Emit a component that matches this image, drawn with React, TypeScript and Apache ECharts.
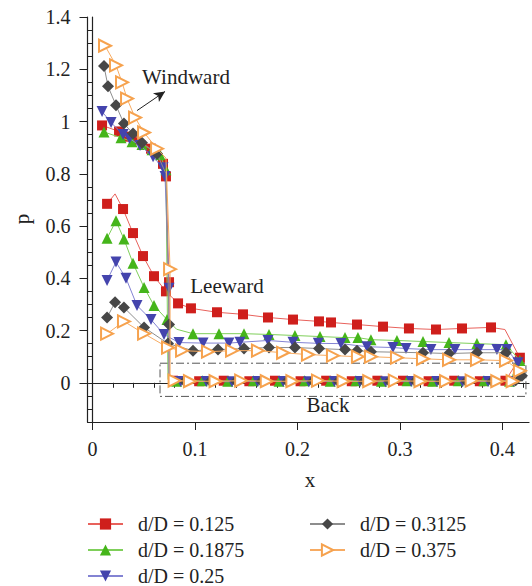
import React, { useEffect, useRef } from "react";
import * as echarts from "echarts";

// ---------- data ----------
const seriesNames = ["d/D = 0.125", "d/D = 0.1875", "d/D = 0.25", "d/D = 0.3125", "d/D = 0.375"];

const xMajor = [0, 0.1, 0.2, 0.3, 0.4];
const xMinor = [0.02, 0.04, 0.06, 0.08, 0.12, 0.14, 0.16, 0.18, 0.22, 0.24, 0.26, 0.28, 0.32, 0.34, 0.36, 0.38, 0.42];
const yMajor = [0, 0.2, 0.4, 0.6, 0.8, 1, 1.2, 1.4];
const yMinor = [-0.1, -0.05, 0.05, 0.1, 0.15, 0.25, 0.3, 0.35, 0.45, 0.5, 0.55, 0.65, 0.7, 0.75, 0.85, 0.9, 0.95, 1.05, 1.1, 1.15, 1.25, 1.3, 1.35];

// d/D = 0.125
const redWindward = [[0.0092, 0.985], [0.0258, 0.962], [0.0346, 0.942], [0.0433, 0.931], [0.057, 0.896], [0.0687, 0.838], [0.0716, 0.79], [0.0746, 0.385], [0.0746, 0.012]];
const redBack = [[0.0785, 0.008], [0.104, 0.006], [0.128, 0.008], [0.153, 0.006], [0.178, 0.008], [0.203, 0.006], [0.228, 0.008], [0.253, 0.006], [0.278, 0.008], [0.303, 0.008], [0.328, 0.006], [0.353, 0.008], [0.378, 0.006], [0.403, 0.008]];
const redLeeward = [[0.4171, 0.096], [0.4025, 0.204], [0.3889, 0.212], [0.3606, 0.208], [0.3352, 0.204], [0.3088, 0.208], [0.2835, 0.215], [0.2581, 0.223], [0.2327, 0.231], [0.221, 0.235], [0.1956, 0.242], [0.1712, 0.25], [0.1468, 0.262], [0.1214, 0.27], [0.096, 0.285], [0.0834, 0.304]];
const redLower = [[0.0716, 0.35], [0.0599, 0.408], [0.0492, 0.485], [0.0394, 0.573], [0.0297, 0.665], [0.0219, 0.723], [0.0141, 0.685]];
const redBends = [[0.0746, 0.012], [0.4025, 0.204], [0.0219, 0.723]];

// d/D = 0.1875
const greenWindward = [[0.0111, 0.96], [0.0277, 0.938], [0.0385, 0.923], [0.0482, 0.912], [0.058, 0.892], [0.0658, 0.873], [0.0716, 0.815], [0.0736, 0.012]];
const greenBack = [[0.082, 0.006], [0.107, 0.008], [0.132, 0.006], [0.157, 0.008], [0.182, 0.006], [0.207, 0.008], [0.232, 0.006], [0.257, 0.008], [0.282, 0.006], [0.307, 0.008], [0.332, 0.006], [0.357, 0.008], [0.382, 0.008], [0.407, 0.006]];
const greenLeeward = [[0.4171, 0.085], [0.4035, 0.146], [0.3752, 0.15], [0.3479, 0.154], [0.3225, 0.158], [0.2971, 0.162], [0.2717, 0.165], [0.259, 0.173], [0.2464, 0.173], [0.222, 0.177], [0.1975, 0.181], [0.1722, 0.185], [0.1478, 0.188], [0.1234, 0.188], [0.098, 0.188], [0.082, 0.205]];
const greenLower = [[0.0726, 0.242], [0.0599, 0.296], [0.0502, 0.365], [0.0394, 0.458], [0.0306, 0.55], [0.0228, 0.62], [0.0141, 0.553]];
const greenBends = [[0.0736, 0.012], [0.082, 0.205]];

// d/D = 0.25
const blueWindward = [[0.0092, 1.038], [0.018, 0.996], [0.0297, 0.95], [0.036, 0.935], [0.0463, 0.908], [0.059, 0.865], [0.0687, 0.823], [0.0707, 0.79], [0.0746, 0.362], [0.0746, 0.012]];
const blueBack = [[0.086, 0.005], [0.111, 0.005], [0.136, 0.004], [0.161, 0.005], [0.186, 0.005], [0.211, 0.004], [0.236, 0.005], [0.261, 0.005], [0.286, 0.004], [0.311, 0.005], [0.336, 0.005], [0.361, 0.004], [0.386, 0.005], [0.411, 0.005]];
const blueLeeward = [[0.4152, 0.077], [0.4045, 0.127], [0.3947, 0.127], [0.3772, 0.127], [0.3537, 0.127], [0.3303, 0.127], [0.3059, 0.131], [0.2932, 0.135], [0.2678, 0.138], [0.2424, 0.15], [0.2203, 0.151], [0.1956, 0.155], [0.1712, 0.162], [0.1439, 0.155], [0.1331, 0.152], [0.1078, 0.152], [0.0843, 0.154]];
const blueLower = [[0.0697, 0.185], [0.057, 0.242], [0.0433, 0.296], [0.0326, 0.4], [0.0228, 0.462], [0.0141, 0.392]];
const blueBends = [[0.0746, 0.012]];

// d/D = 0.3125
const blackWindward = [[0.0111, 1.212], [0.015, 1.135], [0.0228, 1.062], [0.0306, 0.992], [0.0394, 0.954], [0.0482, 0.919], [0.0629, 0.877], [0.0716, 0.8], [0.0746, 0.223], [0.0746, 0.012]];
const blackBack = [[0.09, 0.006], [0.115, 0.006], [0.14, 0.006], [0.165, 0.006], [0.19, 0.006], [0.215, 0.006], [0.24, 0.006], [0.265, 0.006], [0.29, 0.006], [0.315, 0.006], [0.34, 0.006], [0.365, 0.006], [0.39, 0.006], [0.413, 0.01]];
const blackLeeward = [[0.4191, 0.027], [0.4035, 0.115], [0.3752, 0.115], [0.3479, 0.112], [0.3225, 0.115], [0.2717, 0.119], [0.2581, 0.123], [0.2464, 0.127], [0.221, 0.131], [0.1975, 0.135], [0.1722, 0.135], [0.1478, 0.131], [0.1224, 0.127], [0.098, 0.123]];
const blackLower = [[0.0736, 0.15], [0.0502, 0.212], [0.0306, 0.288], [0.0219, 0.308], [0.0141, 0.25]];
const blackBends = [[0.0716, 0.8], [0.0746, 0.012]];

// d/D = 0.375
const orangeWindward = [[0.0121, 1.29], [0.0228, 1.215], [0.0287, 1.15], [0.0336, 1.088], [0.0414, 1.015], [0.0502, 0.958], [0.0629, 0.896], [0.0716, 0.86], [0.0756, 0.435], [0.0756, 0.012]];
const orangeBack = [[0.08, 0.008], [0.095, 0.006], [0.12, 0.006], [0.145, 0.008], [0.17, 0.006], [0.195, 0.006], [0.22, 0.008], [0.245, 0.006], [0.27, 0.006], [0.295, 0.008], [0.32, 0.006], [0.345, 0.006], [0.37, 0.008], [0.395, 0.006], [0.41, 0.006]];
const orangeLeeward = [[0.4171, 0.046], [0.4035, 0.085], [0.3752, 0.088], [0.3479, 0.088], [0.3225, 0.092], [0.2971, 0.096], [0.2717, 0.1], [0.259, 0.1], [0.2346, 0.104], [0.2102, 0.108], [0.1859, 0.115], [0.1614, 0.123], [0.1361, 0.123], [0.1126, 0.119], [0.0873, 0.123]];
const orangeLower = [[0.0736, 0.135], [0.0502, 0.188], [0.0306, 0.235], [0.0141, 0.188]];
const orangeBends = [[0.0716, 0.86], [0.0756, 0.012]];

// annotation anchors (data coordinates)
const backBox = [[0.0658, 0.075], [0.423, -0.052]];
const windArrow = [[0.0434, 1.042], [0.0707, 1.115]];

const FONT = "'Liberation Serif', 'DejaVu Serif', serif";

function build(segs: number[][][], bends: number[][]) {
  const pts = ([] as number[][]).concat(...segs);
  return pts.map(([x, p]) =>
    bends.some((b) => b[0] === x && b[1] === p) ? { value: [x, p], symbol: "none" } : [x, p]
  );
}

export default function App() {
  const ref = useRef<HTMLDivElement>(null);
  useEffect(() => {
    const chart = echarts.init(ref.current!, null, { renderer: "svg" });
    const styles = [
      { marker: "#cf1f1c", line: "#e8625c", symbol: "rect", size: 10, rot: 0 },
      { marker: "#45b51a", line: "#7fcf5a", symbol: "triangle", size: 11, rot: 0 },
      { marker: "#4444ad", line: "#8383d3", symbol: "triangle", size: 11, rot: 180 },
      { marker: "#474747", line: "#8d8d8d", symbol: "diamond", size: 12, rot: 0 },
      { marker: "#f6a24e", line: "#f7ab62", symbol: "emptyTriangle", size: 12, rot: -90 },
    ];
    const datas = [
      build([redWindward, redBack, redLeeward, redLower], redBends),
      build([greenWindward, greenBack, greenLeeward, greenLower], greenBends),
      build([blueWindward, blueBack, blueLeeward, blueLower], blueBends),
      build([blackWindward, blackBack, blackLeeward, blackLower], blackBends),
      build([orangeWindward, orangeBack, orangeLeeward, orangeLower], orangeBends),
    ];
    const series: any[] = datas.map((d, i) => ({
      type: "line",
      name: seriesNames[i],
      data: d,
      symbol: styles[i].symbol,
      symbolSize: styles[i].size,
      symbolRotate: styles[i].rot,
      itemStyle: { color: styles[i].marker, borderWidth: i === 4 ? 1.3 : 0 },
      lineStyle: { color: styles[i].line, width: 1 },
      z: 3 + i,
    }));
    series[0].markArea = {
      silent: true,
      itemStyle: { color: "transparent", borderColor: "#555", borderWidth: 1, borderType: [8, 3, 2, 3] },
      data: [[{ coord: backBox[0] }, { coord: backBox[1] }]],
    };
    series[0].markLine = {
      silent: true,
      symbol: ["none", "arrow"],
      symbolSize: [8, 11],
      label: { show: false },
      lineStyle: { color: "#222", width: 1, type: "solid" },
      data: [[{ coord: windArrow[0] }, { coord: windArrow[1] }]],
    };
    const axisText = { fontFamily: FONT, fontSize: 20, color: "#222" };
    const lineBlack = { show: true, lineStyle: { color: "#222", width: 1.2 } };
    const legendText = { fontFamily: FONT, fontSize: 20, lineHeight: 20, color: "#222", padding: [0, 0, 0, 10] };
    chart.setOption({
      animation: false,
      grid: { left: 87.5, right: 3, top: 17, bottom: 164 },
      xAxis: [
        {
          type: "value", min: -0.005, max: 0.426, position: "bottom",
          axisLine: { ...lineBlack, onZero: false },
          axisTick: { show: true, inside: false, length: 8, customValues: xMajor, lineStyle: { color: "#222" } },
          axisLabel: { customValues: xMajor, margin: 17, ...axisText },
          splitLine: { show: false },
        },
        {
          type: "value", min: -0.005, max: 0.426, position: "bottom",
          axisLine: { show: false },
          axisTick: { show: true, inside: false, length: 5, customValues: xMinor, lineStyle: { color: "#222" } },
          axisLabel: { show: false },
          splitLine: { show: false },
        },
        {
          type: "value", min: -0.005, max: 0.426, position: "top",
          axisLine: lineBlack, axisTick: { show: false }, axisLabel: { show: false }, splitLine: { show: false },
        },
      ],
      yAxis: [
        {
          type: "value", min: -0.15, max: 1.4, position: "left",
          axisLine: { ...lineBlack, onZero: false },
          axisTick: { show: true, inside: false, length: 8, customValues: yMajor, lineStyle: { color: "#222" } },
          axisLabel: { customValues: yMajor, margin: 17, ...axisText },
          splitLine: { show: false },
        },
        {
          type: "value", min: -0.15, max: 1.4, position: "left",
          axisLine: { show: false },
          axisTick: { show: true, inside: false, length: 5, customValues: yMinor, lineStyle: { color: "#222" } },
          axisLabel: { show: false },
          splitLine: { show: false },
        },
        {
          type: "value", min: -0.15, max: 1.4, position: "right",
          axisLine: lineBlack, axisTick: { show: false }, axisLabel: { show: false }, splitLine: { show: false },
        },
      ],
      legend: [
        {
          data: seriesNames.slice(0, 3), orient: "vertical", left: 87, top: 514, bottom: 0, padding: 0,
          itemWidth: 35, itemHeight: 14, itemGap: 6, textStyle: legendText,
        },
        {
          data: seriesNames.slice(3), orient: "vertical", left: 309, top: 514, bottom: 0, padding: 0,
          itemWidth: 35, itemHeight: 14, itemGap: 6, textStyle: legendText,
        },
      ],
      graphic: [
        { type: "text", x: 186, y: 77, style: { text: "Windward", font: `21px ${FONT}`, fill: "#222", align: "center", verticalAlign: "middle" } },
        { type: "text", x: 227, y: 286, style: { text: "Leeward", font: `21px ${FONT}`, fill: "#222", align: "center", verticalAlign: "middle" } },
        { type: "text", x: 328, y: 405, style: { text: "Back", font: `21px ${FONT}`, fill: "#222", align: "center", verticalAlign: "middle" } },
        { type: "text", x: 310, y: 480, style: { text: "x", font: `21px ${FONT}`, fill: "#222", align: "center", verticalAlign: "middle" } },
        { type: "text", x: 22, y: 219, rotation: Math.PI / 2, style: { text: "p", font: `21px ${FONT}`, fill: "#222", align: "center", verticalAlign: "middle" } },
      ],
      series,
    });
    return () => chart.dispose();
  }, []);
  return <div ref={ref} style={{ width: 532, height: 586, position: "absolute", left: 0, top: 0 }} />;
}
